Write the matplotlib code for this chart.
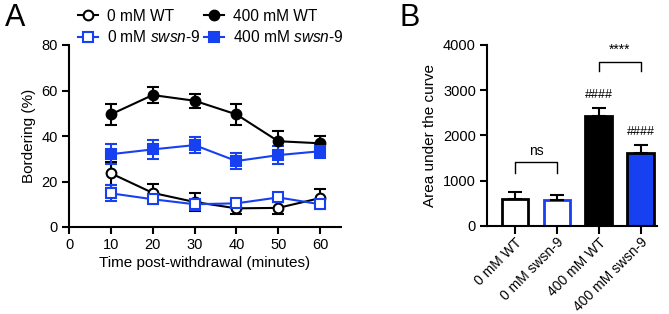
import matplotlib.pyplot as plt
from matplotlib.lines import Line2D
import numpy as np

plt.rcParams['font.family'] = ['Liberation Sans', 'DejaVu Sans']
plt.rcParams['mathtext.fontset'] = 'custom'
plt.rcParams['mathtext.it'] = 'Liberation Sans:italic'
plt.rcParams['mathtext.rm'] = 'Liberation Sans'

BLUE = '#1740f0'

# Panel A: bordering over time
times = [10, 20, 30, 40, 50, 60]
wt_0 = [23.6, 15.0, 11.0, 8.2, 8.4, 12.7]
wt_0_err = [5.0, 4.0, 3.8, 2.5, 2.5, 4.0]
sw_0 = [14.8, 12.2, 10.0, 10.4, 13.0, 10.0]
sw_0_err = [3.5, 2.0, 2.5, 2.0, 2.0, 2.0]
wt_400 = [49.5, 58.0, 55.5, 49.5, 37.7, 36.8]
wt_400_err = [4.5, 3.5, 3.0, 4.5, 4.5, 3.0]
sw_400 = [32.0, 34.1, 36.0, 29.0, 31.6, 33.3]
sw_400_err = [4.5, 4.0, 3.5, 3.5, 4.0, 3.0]

# Panel B: area under the curve
groups = ['0 mM WT', '0 mM swsn-9', '400 mM WT', '400 mM swsn-9']
auc = [590, 560, 2435, 1616]
auc_err = [155, 120, 165, 164]
bar_face = ['white', 'white', 'black', BLUE]
bar_edge = ['black', BLUE, 'black', 'black']

fig = plt.figure(figsize=(6.69, 3.14), dpi=100)
axA = fig.add_axes([69/669, 1-227/314, (341-69)/669, (227-45)/314])
axB = fig.add_axes([487/669, 1-225.7/314, (657-487)/669, (225.7-45)/314])

def series(ax, y, err, color, marker, filled, label):
    ms = 7 if marker == 'o' else 6.5
    ax.errorbar(times, y, yerr=err, color=color, lw=1.5, marker=marker,
                ms=ms, mew=1.5, mfc=color if filled else 'white', mec=color,
                capsize=4, capthick=1.5, elinewidth=1.5)
    return Line2D([], [], color=color, lw=1.5, marker=marker, ms=ms, mew=1.5,
                  mfc=color if filled else 'white', mec=color, label=label)

h1 = series(axA, wt_0, wt_0_err, 'black', 'o', False, '0 mM WT')
h2 = series(axA, sw_0, sw_0_err, BLUE, 's', False, '0 mM $\\mathit{swsn}$-$\\mathit{9}$')
h3 = series(axA, wt_400, wt_400_err, 'black', 'o', True, '400 mM WT')
h4 = series(axA, sw_400, sw_400_err, BLUE, 's', True, '400 mM $\\mathit{swsn}$-$\\mathit{9}$')

axA.set_xlim(0, 65)
axA.set_ylim(0, 80)
axA.set_xticks([0, 10, 20, 30, 40, 50, 60])
axA.set_yticks([0, 20, 40, 60, 80])
axA.set_xlabel('Time post-withdrawal (minutes)', fontsize=11, labelpad=3)
axA.set_ylabel('Bordering (%)', fontsize=11, labelpad=4)

fig.legend(handles=[h1, h2, h3, h4], ncol=2, loc='upper left',
           bbox_to_anchor=(70/669, 1 - 1/314), frameon=False, fontsize=11.2,
           borderpad=0, handlelength=1.3, handletextpad=0.55, columnspacing=0.25,
           labelspacing=0.35)

x = np.arange(len(groups))
axB.bar(x, auc, width=0.64, color=bar_face, edgecolor=bar_edge, linewidth=2)
axB.errorbar(x, auc, yerr=[[0]*4, auc_err], fmt='none', ecolor='black',
             elinewidth=1.5, capsize=5, capthick=1.5)
axB.set_xlim(-0.67, 3.39)
axB.set_ylim(0, 4000)
axB.set_yticks([0, 1000, 2000, 3000, 4000])
axB.set_xticks(x)
axB.set_xticklabels(groups, rotation=45, ha='right', rotation_mode='anchor',
                    fontsize=10)
axB.set_ylabel('Area under the curve', fontsize=11, labelpad=4)

def bracket(ax, x0, x1, y, h, text):
    ax.plot([x0, x0, x1, x1], [y - h, y, y, y - h], color='black', lw=1)
    ax.text((x0 + x1) / 2, y + 100, text, ha='center', va='bottom', fontsize=10)

bracket(axB, 0, 1, 1400, 240, 'ns')
bracket(axB, 2, 3, 3630, 210, '****')
axB.text(2, auc[2] + auc_err[2] + 170, '####', ha='center', va='bottom', fontsize=9)
axB.text(3, auc[3] + auc_err[3] + 170, '####', ha='center', va='bottom', fontsize=9)

for ax in (axA, axB):
    ax.spines['top'].set_visible(False)
    ax.spines['right'].set_visible(False)
    ax.spines['left'].set_linewidth(1.5)
    ax.spines['bottom'].set_linewidth(1.5)
    ax.tick_params(width=1.5, length=5, labelsize=10.5, pad=3)
axB.tick_params(axis='x', labelsize=10, pad=1, length=6)

fig.text(5/669, 1 - 3/314, 'A', fontsize=22, va='top', ha='left')
fig.text(400/669, 1 - 3/314, 'B', fontsize=22, va='top', ha='left')

fig.savefig('out.png', dpi=100)
